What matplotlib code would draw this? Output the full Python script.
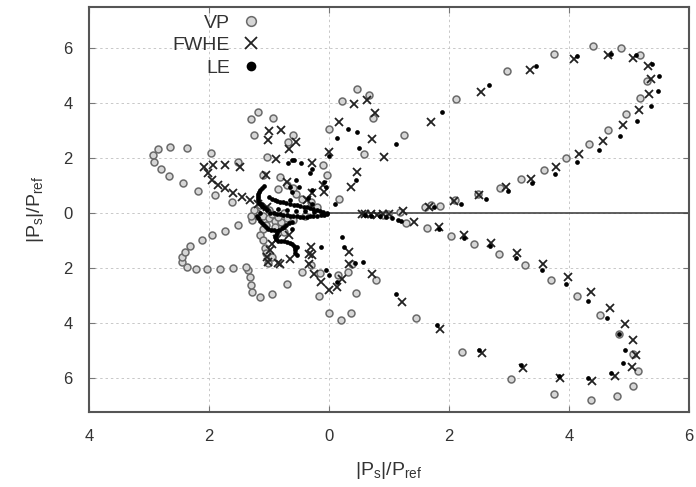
import numpy as np
import matplotlib.pyplot as plt

plt.rcParams['font.family'] = ['Liberation Sans', 'DejaVu Sans']
plt.rcParams['mathtext.fontset'] = 'custom'
plt.rcParams['mathtext.rm'] = 'Liberation Sans'
plt.rcParams['mathtext.it'] = 'Liberation Sans'

# directivity points, x = |Ps|/Pref*cos, y = |Ps|/Pref*sin
vp_pts = [
    (2.97, 5.16), (3.75, 5.78), (4.40, 6.07), (4.87, 6.0), (5.18, 5.75), (5.3, 4.8),
    (5.18, 4.18), (4.95, 3.6), (4.65, 3.02), (4.33, 2.51), (3.95, 2.0), (3.58, 1.56),
    (3.2, 1.24), (2.85, 0.91), (2.48, 0.69), (2.1, 0.47), (1.85, 0.25), (1.7, 0.28),
    (1.6, 0.22), (1.18, 0.04), (0.98, -0.05), (0.9, -0.07),
    (2.12, 4.15), (1.25, 2.84), (0.17, 0.51), (0.58, 2.15), (0.73, 3.45), (0.67, 4.29),
    (0.47, 4.51), (0.22, 4.07), (0.0, 3.05), (-0.6, 2.82),
    (1.28, -0.36), (1.63, -0.55), (2.03, -0.84), (2.42, -1.13), (2.83, -1.49), (3.27, -1.89),
    (3.7, -2.44), (4.13, -3.02), (4.52, -3.71), (4.83, -4.4), (5.07, -5.13), (5.15, -5.75),
    (5.07, -6.3), (4.8, -6.65), (4.37, -6.8), (3.75, -6.58), (3.03, -6.04), (2.22, -5.05),
    (1.45, -3.82), (0.78, -2.44), (0.45, -2.9), (0.37, -3.64), (0.2, -3.9), (0.0, -3.64),
    (-0.17, -3.02), (0.38, -1.85), (-0.45, -2.15), (-0.3, -1.9), (-0.7, -2.58),
    (-0.95, -2.95), (-1.15, -3.05), (-1.28, -2.87), (-1.3, -2.62), (-1.32, -2.33),
    (-1.35, -2.07), (-1.38, -1.96), (-1.6, -2.0), (-1.82, -2.04), (-2.03, -2.04),
    (-2.22, -2.04), (-2.37, -1.96), (-2.45, -1.78), (-2.45, -1.6), (-2.4, -1.42),
    (-2.32, -1.2), (-2.12, -0.98), (-1.95, -0.8), (-1.73, -0.65), (-1.52, -0.44), (-1.28, -0.25),
    (-2.93, 2.1), (-2.85, 2.33), (-2.65, 2.4), (-2.37, 2.36), (-1.97, 2.18), (-1.52, 1.85),
    (-2.92, 1.85), (-2.8, 1.6), (-2.67, 1.35), (-2.43, 1.09), (-2.18, 0.8), (-1.9, 0.65),
    (-1.62, 0.4), (-1.03, 2.04), (-1.1, 1.38), (-0.82, 1.31), (-0.7, 1.02),
    (-1.25, 2.84), (-1.3, 3.42), (-1.18, 3.67), (-0.93, 3.45), (-0.68, 2.58),
    (-0.1, 1.75), (-0.03, 1.38),
    (-1.07, -1.27), (-0.95, -1.6), (-1.02, -1.82), (-0.15, -2.18), (0.15, -2.25), (0.32, -2.15),
    (-1.2, 0.0), (-1.1, -0.1), (-1.0, -0.2), (-0.9, -0.3), (-0.8, -0.35), (-1.15, 0.3),
    (-1.05, -0.45), (-0.6, -0.25), (-0.4, -0.1), (-0.45, 0.5), (-0.3, 0.4), (-0.2, 0.2),
    (-0.85, 0.85), (-0.6, 0.9), (-0.55, 0.7),
    (-1.25, 0.1), (-1.3, -0.1), (-0.95, -0.05), (-0.85, -0.15), (-0.75, 0.0), (-0.7, -0.2),
    (-1.0, 0.1), (-1.1, -0.6), (-1.15, -0.8), (-1.1, -1.0), (-1.05, -1.45), (-0.9, -0.5),
    (-0.75, -0.7),
]

fwhe_pts = [
    (3.35, 5.2), (4.08, 5.6), (4.65, 5.75), (5.07, 5.64), (5.32, 5.35), (5.37, 4.87),
    (5.33, 4.33), (5.17, 3.75), (4.9, 3.2), (4.57, 2.62), (4.17, 2.15), (3.78, 1.67),
    (3.37, 1.24), (2.95, 0.95), (2.5, 0.65), (2.08, 0.44), (1.67, 0.22), (1.23, 0.07),
    (1.0, -0.05), (0.9, -0.03), (0.8, -0.08), (0.7, -0.05), (0.6, -0.05), (0.55, -0.03),
    (2.53, 4.4), (1.7, 3.31), (0.92, 2.04), (0.72, 2.69), (0.77, 3.64), (0.63, 4.11),
    (0.42, 3.96), (0.17, 3.31), (0.47, 1.49), (0.37, 0.95), (-0.08, 0.76), (0.0, 2.22),
    (-0.28, 1.82), (-0.55, 2.58), (-0.37, 0.47),
    (1.42, -0.33), (1.83, -0.51), (2.25, -0.8), (2.7, -1.09), (3.13, -1.45), (3.57, -1.85),
    (3.98, -2.33), (4.37, -2.87), (4.68, -3.45), (4.93, -4.04), (5.07, -4.62), (5.12, -5.16),
    (5.05, -5.6), (4.77, -5.93), (4.38, -6.11), (3.85, -6.0), (3.23, -5.64), (2.55, -5.09),
    (1.85, -4.22), (1.22, -3.24), (0.72, -2.22), (0.33, -1.42), (0.33, -1.85), (0.22, -2.4),
    (0.0, -2.8), (-0.13, -2.51), (-0.25, -2.22), (-0.33, -1.85), (-0.3, -1.24), (-0.33, -1.49),
    (0.13, -2.69), (-0.28, -1.53), (-0.67, -0.8),
    (-1.0, 2.98), (-0.8, 3.02), (-1.02, 2.65), (-0.67, 2.33), (-0.88, 1.96), (-1.05, 1.38),
    (-0.7, 1.13), (-0.1, 1.02), (-0.28, 0.73),
    (-2.08, 1.67), (-1.93, 1.75), (-1.73, 1.75), (-1.48, 1.67), (-2.02, 1.45), (-1.95, 1.2),
    (-1.85, 1.02), (-1.73, 0.91), (-1.6, 0.73), (-1.45, 0.58), (-1.32, 0.47), (-1.18, 0.33),
    (-1.03, 0.22),
    (-1.03, -1.6), (-0.98, -1.35), (-0.95, -1.13), (-0.87, -0.95), (-1.02, -1.78),
    (-0.82, -1.85), (-0.65, -1.67), (-0.85, -1.82),
]

le_pts = [
    (3.45, 5.35), (4.13, 5.7), (4.7, 5.8), (5.12, 5.75), (5.38, 5.42), (5.5, 4.98),
    (5.48, 4.44), (5.37, 3.89), (5.13, 3.35), (4.85, 2.8), (4.5, 2.29), (4.13, 1.85),
    (3.77, 1.42), (3.38, 1.09), (2.98, 0.8), (2.62, 0.51), (2.2, 0.33), (1.75, 0.2),
    (1.15, -0.25), (0.6, -0.08), (0.7, -0.1), (0.85, -0.12), (0.95, -0.15), (1.05, -0.2),
    (2.67, 4.65), (1.88, 3.67), (1.12, 2.51), (0.47, 2.95), (0.32, 3.05), (0.13, 2.73),
    (0.5, 2.36), (0.45, 1.2), (0.1, 0.33), (-0.08, 1.13), (-0.05, 0.95), (0.0, 2.07),
    (-0.28, 1.6), (-0.47, 1.82), (-0.68, 1.82), (-0.62, 1.93), (-0.32, 1.45), (-0.65, 0.95),
    (-0.5, 0.93), (-0.62, 0.75), (-0.65, 0.47), (-0.35, 0.55), (-0.28, 0.84), (-0.28, 0.33),
    (-0.55, 1.2), (-0.58, 1.93),
    (1.2, -0.3), (1.83, -0.6), (2.25, -0.9), (2.68, -1.2), (3.12, -1.64), (3.55, -2.07),
    (3.95, -2.58), (4.32, -3.2), (4.63, -3.82), (4.83, -4.4), (4.93, -4.98), (4.9, -5.45),
    (4.7, -5.82), (4.32, -6.0), (3.83, -5.95), (3.2, -5.55), (2.5, -5.0), (1.8, -4.07),
    (1.12, -2.95), (0.57, -1.78), (0.22, -0.87), (0.25, -1.24), (0.43, -1.82), (0.0, -2.25),
    (0.13, -2.5), (-0.05, -2.07), (-0.13, -1.24),
    # dense strands around the source
    (-0.04, 0.01), (-0.1, 0.04), (-0.15, 0.08), (-0.2, 0.1), (-0.26, 0.13), (-0.31, 0.17),
    (-0.37, 0.21), (-0.42, 0.23), (-0.48, 0.25), (-0.53, 0.27), (-0.59, 0.29), (-0.65, 0.32),
    (-0.71, 0.35), (-0.76, 0.38), (-0.82, 0.41), (-0.86, 0.44), (-0.9, 0.47), (-0.95, 0.5),
    (-1.0, 0.56),
    (-0.04, -0.03), (-0.09, -0.07), (-0.14, -0.09), (-0.2, -0.11), (-0.26, -0.12),
    (-0.32, -0.13), (-0.37, -0.15), (-0.43, -0.16), (-0.48, -0.15), (-0.54, -0.13),
    (-0.6, -0.12), (-0.65, -0.11), (-0.7, -0.09), (-0.76, -0.07), (-0.82, -0.05),
    (-0.87, -0.04), (-0.92, -0.02), (-0.98, 0.01),
    (-0.1, 0.0), (-0.25, 0.02), (-0.4, 0.05), (-0.55, 0.07), (-0.7, 0.1), (-0.85, 0.13),
    (-1.09, 0.96), (-1.12, 0.9), (-1.15, 0.84), (-1.17, 0.77), (-1.18, 0.69), (-1.19, 0.61),
    (-1.18, 0.53), (-1.18, 0.45), (-1.16, 0.37), (-1.14, 0.31), (-1.12, 0.25), (-1.1, 0.2),
    (-1.07, 0.17), (-1.04, 0.12),
    (-1.15, -0.02), (-1.2, -0.1), (-1.18, -0.19), (-1.15, -0.28), (-1.12, -0.38),
    (-1.09, -0.45), (-1.05, -0.52), (-1.01, -0.58), (-0.97, -0.62), (-0.92, -0.64),
    (-0.87, -0.65), (-0.83, -0.61), (-0.79, -0.56), (-0.75, -0.5), (-0.71, -0.44),
    (-0.67, -0.38), (-0.62, -0.32),
    (-0.87, -0.74), (-0.88, -0.81), (-0.9, -0.88), (-0.88, -0.95), (-0.85, -1.01),
    (-0.8, -1.03), (-0.75, -1.04), (-0.7, -1.06), (-0.65, -1.08), (-0.61, -1.14),
    (-0.58, -1.2), (-0.57, -1.28), (-0.57, -1.37), (-0.56, -1.45), (-0.54, -1.53),
    (-0.62, -0.58), (-0.53, -1.24),
]

x_ticks = [-4, -2, 0, 2, 4, 6]
x_ticklabels = ['4', '2', '0', '2', '4', '6']
y_ticks = [-6, -4, -2, 0, 2, 4, 6]
y_ticklabels = ['6', '4', '2', '0', '2', '4', '6']

vp = np.array(vp_pts)
fwhe = np.array(fwhe_pts)
le = np.array(le_pts)

fig = plt.figure(figsize=(6.96, 4.87), dpi=100)
ax = fig.add_axes([0.128, 0.154, 0.862, 0.832])

ax.plot(vp[:, 0], vp[:, 1], 'o', ls='none', ms=5, mfc='#d6d6d6', mec='#6a6a6a',
        mew=1.1, label='VP')
ax.plot(fwhe[:, 0], fwhe[:, 1], 'x', ls='none', ms=6, mec='#222222', mew=1.3,
        label='FWHE')
ax.plot(le[:, 0], le[:, 1], 'o', ls='none', ms=3.4, mfc='black', mec='black',
        mew=0, label='LE')

# reference direction (0 deg)
ax.plot([0, 6], [0, 0], color='#444444', lw=1.2, zorder=1)

ax.set_xlim(-4, 6)
ax.set_ylim(-7.25, 7.5)
ax.set_xticks(x_ticks)
ax.set_xticklabels(x_ticklabels)
ax.set_yticks(y_ticks)
ax.set_yticklabels(y_ticklabels)
ax.grid(True, color='#c8c8c8', ls=(0, (2.5, 3)), lw=0.7)
ax.set_axisbelow(True)
ax.tick_params(direction='in', length=4, width=0.8, color='#777777',
               top=True, right=True, labelsize=12, labelcolor='#333333')
ax.tick_params(axis='x', pad=12)
ax.tick_params(axis='y', pad=12)
for s in ax.spines.values():
    s.set_color('#555555')
    s.set_linewidth(1.5)

ax.set_xlabel(r'$|\mathrm{P_s}|/\mathrm{P_{ref}}$', fontsize=14, color='#333333',
              labelpad=12)
ax.set_ylabel(r'$|\mathrm{P_s}|/\mathrm{P_{ref}}$', fontsize=14, color='#333333',
              labelpad=12)

leg = ax.legend(loc='upper left', bbox_to_anchor=(0.11, 1.025), frameon=False,
                markerfirst=False, fontsize=14, handlelength=1.0, handletextpad=0.6,
                labelspacing=0.25, labelcolor='#333333')
for h, ms in zip(leg.legend_handles, [7, 8, 7]):
    h.set_markersize(ms)

fig.savefig('out.png', dpi=100)
